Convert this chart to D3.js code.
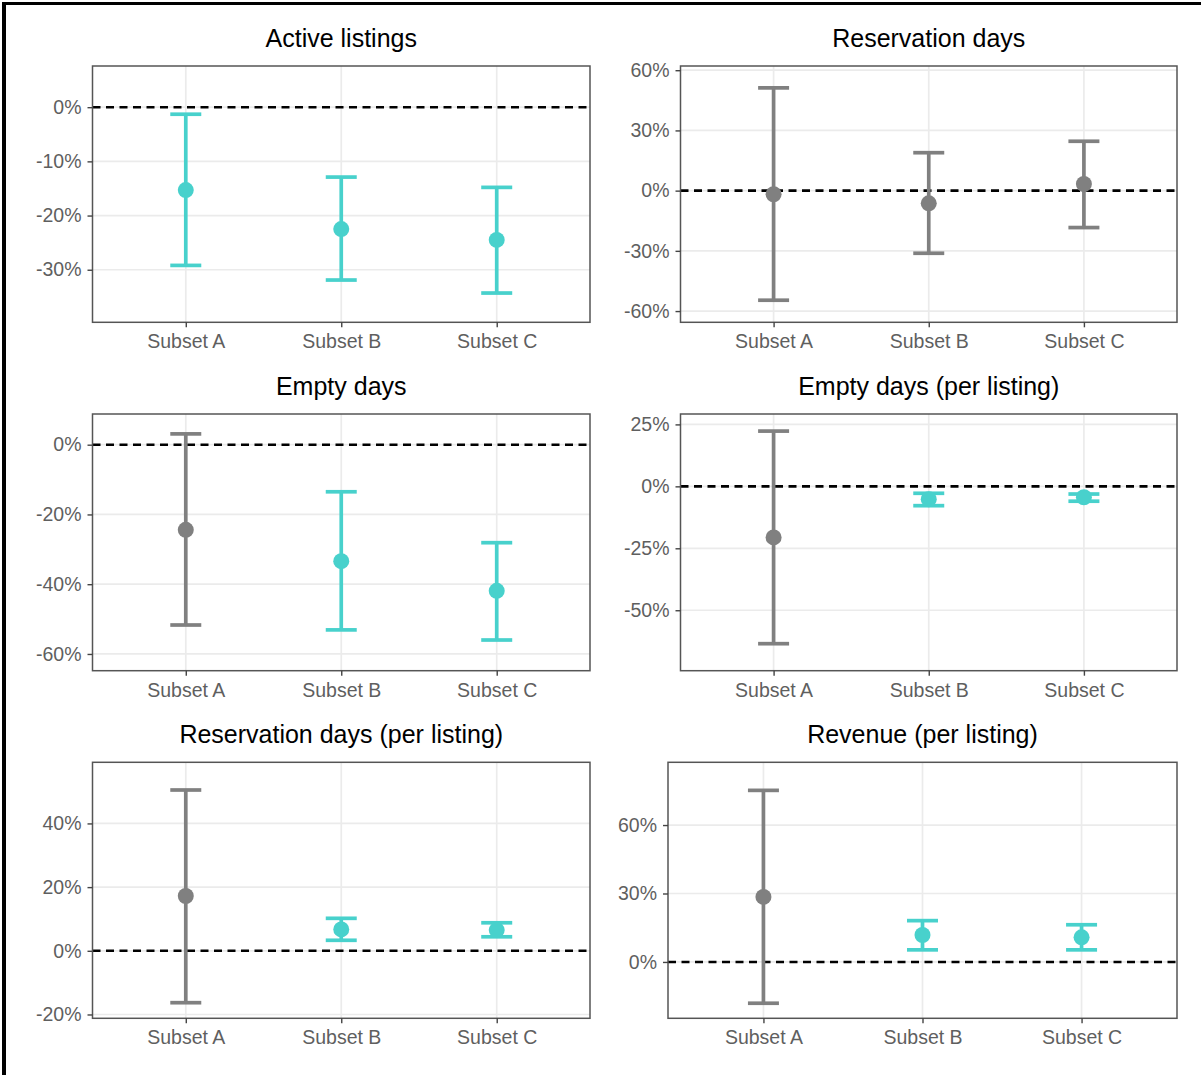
<!DOCTYPE html>
<html>
<head>
<meta charset="utf-8">
<script src="https://cdn.jsdelivr.net/npm/d3@7"></script>
<style>
  html, body { margin: 0; padding: 0; background: #fff; }
  svg { display: block; }
</style>
</head>
<body>
<svg id="chart" width="1201" height="1075"></svg>
<script>
// ---------- data ----------
const categories = ["Subset A", "Subset B", "Subset C"];
const panelTitles = [
  "Active listings",
  "Reservation days",
  "Empty days",
  "Empty days (per listing)",
  "Reservation days (per listing)",
  "Revenue (per listing)"
];
// point estimates (%)
const estimates = [
  [-15.3, -22.5, -24.5],
  [-1.8, -6.3, 3.3],
  [-24.4, -33.4, -41.9],
  [-20.6, -5.2, -4.4],
  [17.2, 6.7, 6.5],
  [28.5, 11.8, 10.8]
];
// lower bounds of intervals (%)
const lowers = [
  [-29.2, -31.9, -34.3],
  [-54.6, -31.2, -18.4],
  [-51.7, -53.1, -56.0],
  [-63.5, -7.8, -6.0],
  [-16.3, 3.3, 4.4],
  [-18.1, 5.3, 5.3]
];
// upper bounds of intervals (%)
const uppers = [
  [-1.3, -12.9, -14.8],
  [51.2, 18.9, 24.6],
  [3.1, -13.5, -28.1],
  [22.3, -2.8, -3.1],
  [50.5, 10.2, 8.8],
  [75.2, 18.1, 16.3]
];
// significant (1) vs not (0)
const significant = [
  [1, 1, 1],
  [0, 0, 0],
  [0, 1, 1],
  [0, 1, 1],
  [0, 1, 1],
  [0, 1, 1]
];
// y tick values (%)
const yTicks = [
  [0, -10, -20, -30],
  [60, 30, 0, -30, -60],
  [0, -20, -40, -60],
  [25, 0, -25, -50],
  [40, 20, 0, -20],
  [60, 30, 0]
];
// y axis limits (%)
const yLimits = [
  [-39.7, 7.6],
  [-65.6, 62.1],
  [-64.8, 8.8],
  [-74.4, 29.2],
  [-21.2, 59.2],
  [-24.7, 87.5]
];

// ---------- layout ----------
const panelBoxes = [
  { x0: 92.5, x1: 590, y0: 66, y1: 322.3 },
  { x0: 680.5, x1: 1177, y0: 66, y1: 322.3 },
  { x0: 92.5, x1: 590, y0: 414, y1: 670.7 },
  { x0: 680.5, x1: 1177, y0: 414, y1: 670.7 },
  { x0: 92.5, x1: 590, y0: 762.3, y1: 1018.3 },
  { x0: 668, x1: 1177, y0: 762.3, y1: 1018.3 }
];
const COL_SIG = "#48D1CC";
const COL_NS = "#808080";
const FONT = "'Liberation Sans', Arial, Helvetica, sans-serif";

const svg = d3.select("#chart");
svg.append("rect").attr("width", 1201).attr("height", 1075).attr("fill", "#fff");

panelBoxes.forEach((b, i) => {
  const g = svg.append("g");
  const x = d3.scalePoint().domain(categories).range([b.x0, b.x1]).padding(0.6);
  const y = d3.scaleLinear().domain(yLimits[i]).range([b.y1, b.y0]);

  g.append("rect").attr("x", b.x0).attr("y", b.y0)
    .attr("width", b.x1 - b.x0).attr("height", b.y1 - b.y0).attr("fill", "#fff");

  // gridlines
  g.selectAll(".hg").data(yTicks[i]).enter().append("line")
    .attr("x1", b.x0).attr("x2", b.x1)
    .attr("y1", d => y(d)).attr("y2", d => y(d))
    .attr("stroke", "#EBEBEB").attr("stroke-width", 1.7);
  g.selectAll(".vg").data(categories).enter().append("line")
    .attr("x1", d => x(d)).attr("x2", d => x(d))
    .attr("y1", b.y0).attr("y2", b.y1)
    .attr("stroke", "#EBEBEB").attr("stroke-width", 1.7);

  // zero reference line
  g.append("line")
    .attr("x1", b.x0).attr("x2", b.x1)
    .attr("y1", y(0)).attr("y2", y(0))
    .attr("stroke", "#000").attr("stroke-width", 2.6)
    .attr("stroke-dasharray", "8,5.5");

  // error bars + points
  const rows = categories.map((c, j) => ({
    cat: c, est: estimates[i][j], lo: lowers[i][j], hi: uppers[i][j],
    col: significant[i][j] ? COL_SIG : COL_NS
  }));
  const capHalf = 15.5;
  rows.forEach(r => {
    const cx = x(r.cat);
    g.append("line").attr("x1", cx).attr("x2", cx)
      .attr("y1", y(r.hi)).attr("y2", y(r.lo))
      .attr("stroke", r.col).attr("stroke-width", 3.7);
    [r.hi, r.lo].forEach(v => {
      g.append("line").attr("x1", cx - capHalf).attr("x2", cx + capHalf)
        .attr("y1", y(v)).attr("y2", y(v))
        .attr("stroke", r.col).attr("stroke-width", 3.7);
    });
    g.append("circle").attr("cx", cx).attr("cy", y(r.est)).attr("r", 8)
      .attr("fill", r.col);
  });

  // border
  g.append("rect").attr("x", b.x0).attr("y", b.y0)
    .attr("width", b.x1 - b.x0).attr("height", b.y1 - b.y0)
    .attr("fill", "none").attr("stroke", "#555").attr("stroke-width", 1.5);

  // axes
  const ya = g.append("g").attr("transform", `translate(${b.x0},0)`)
    .call(d3.axisLeft(y).tickValues(yTicks[i]).tickFormat(d => d + "%")
      .tickSize(5).tickPadding(6));
  const xa = g.append("g").attr("transform", `translate(0,${b.y1})`)
    .call(d3.axisBottom(x).tickSize(5).tickPadding(7));
  [ya, xa].forEach(a => {
    a.select(".domain").remove();
    a.selectAll(".tick line").attr("stroke", "#444").attr("stroke-width", 1.4);
    a.selectAll(".tick text").attr("fill", "#5f5f5f")
      .style("font-family", FONT).style("font-size", "19.5px");
  });

  // title
  g.append("text").attr("x", (b.x0 + b.x1) / 2).attr("y", b.y0 - 19)
    .attr("text-anchor", "middle").attr("fill", "#000")
    .style("font-family", FONT).style("font-size", "25px")
    .text(panelTitles[i]);
});

// outer frame (top + left edges)
svg.append("rect").attr("x", 2).attr("y", 2).attr("width", 4).attr("height", 1073).attr("fill", "#000");
svg.append("rect").attr("x", 2).attr("y", 2).attr("width", 1199).attr("height", 3).attr("fill", "#000");
</script>
</body>
</html>
